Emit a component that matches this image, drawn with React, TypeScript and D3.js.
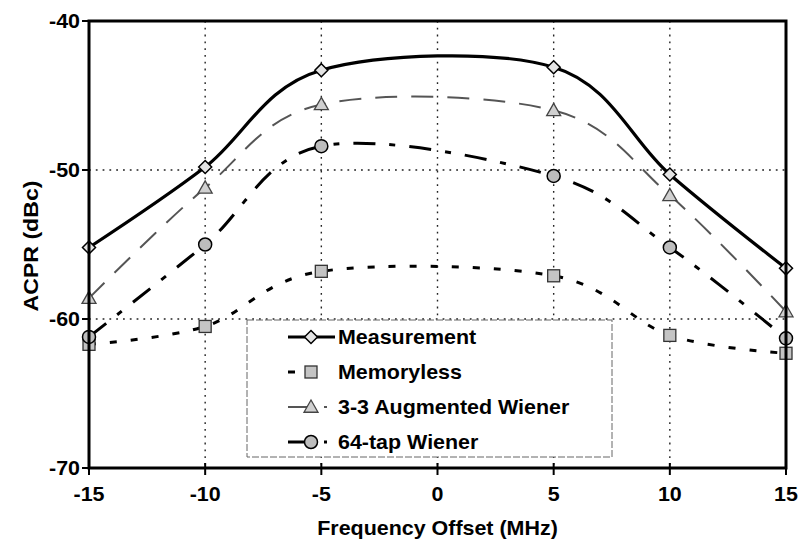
import React from "react";
import * as d3 from "d3";

// Frequency offsets (MHz) and ACPR (dBc) per model
const freqs = [-15, -10, -5, 5, 10, 15];
const measurement = [-55.2, -49.8, -43.3, -43.1, -50.3, -56.6];
const memoryless = [-61.7, -60.5, -56.8, -57.1, -61.1, -62.3];
const augmented = [-58.6, -51.2, -45.6, -46.0, -51.7, -59.5];
const tap64 = [-61.2, -55.0, -48.4, -50.4, -55.2, -61.3];

const xTicks = [-15, -10, -5, 0, 5, 10, 15];
const yTicks = [-40, -50, -60, -70];
const gridX = [-10, -5, 0, 5, 10];
const gridY = [-50, -60];

const seriesNames = ["Measurement", "Memoryless", "3-3 Augmented Wiener", "64-tap Wiener"];

const W = 799;
const H = 547;
const left = 89;
const right = 786;
const top = 21;
const bottom = 468;

const FONT = "'Liberation Sans', Arial, sans-serif";
const SX = 1.1;

type Style = {
  name: string;
  values: number[];
  stroke: string;
  width: number;
  dash?: string;
  marker: "diamond" | "square" | "triangle" | "circle";
};

const series: Style[] = [
  { name: seriesNames[1], values: memoryless, stroke: "#000", width: 3, dash: "7,14", marker: "square" },
  { name: seriesNames[3], values: tap64, stroke: "#000", width: 3, dash: "22,14,6,14", marker: "circle" },
  { name: seriesNames[2], values: augmented, stroke: "#555", width: 2, dash: "22,14", marker: "triangle" },
  { name: seriesNames[0], values: measurement, stroke: "#000", width: 3.2, marker: "diamond" },
];

function Marker({ kind, cx, cy }: { kind: Style["marker"]; cx: number; cy: number }) {
  if (kind === "diamond") {
    const r = 6.5;
    return (
      <path
        d={`M${cx},${cy - r}L${cx + r},${cy}L${cx},${cy + r}L${cx - r},${cy}Z`}
        fill="#e4e4e4"
        stroke="#000"
        strokeWidth={1.5}
      />
    );
  }
  if (kind === "square") {
    const r = 6;
    return <rect x={cx - r} y={cy - r} width={2 * r} height={2 * r} fill="#c4c4c4" stroke="#333" strokeWidth={1.3} />;
  }
  if (kind === "triangle") {
    const r = 7;
    return (
      <path
        d={`M${cx},${cy - r}L${cx + r},${cy + r * 0.75}L${cx - r},${cy + r * 0.75}Z`}
        fill="#d0d0d0"
        stroke="#444"
        strokeWidth={1.3}
      />
    );
  }
  return <circle cx={cx} cy={cy} r={6.5} fill="#bdbdbd" stroke="#000" strokeWidth={1.5} />;
}

function Label({
  x,
  y,
  text,
  anchor = "start",
  size = 19.5,
  rotate = 0,
}: {
  x: number;
  y: number;
  text: string;
  anchor?: string;
  size?: number;
  rotate?: number;
}) {
  const t = rotate ? `translate(${x},${y}) rotate(${rotate}) scale(${SX},1)` : `translate(${x},${y}) scale(${SX},1)`;
  return (
    <text transform={t} textAnchor={anchor} fontFamily={FONT} fontWeight="bold" fontSize={size} fill="#000">
      {text}
    </text>
  );
}

export default function App() {
  const x = d3.scaleLinear().domain([-15, 15]).range([left, right]);
  const y = d3.scaleLinear().domain([-70, -40]).range([bottom, top]);

  const line = d3
    .line<number>()
    .x((_, i) => x(freqs[i]))
    .y((v) => y(v))
    .curve(d3.curveCardinal.tension(0));

  // Legend layout
  const lgX = 247;
  const lgY = 320;
  const lgW = 365;
  const lgH = 137;
  const legendOrder = [series[3], series[0], series[2], series[1]];

  return (
    <svg width={W} height={H} style={{ position: "absolute", left: 0, top: 0, background: "#fff" }}>
      <rect x={0} y={0} width={W} height={H} fill="#fff" />

      {/* grid */}
      {gridX.map((g) => (
        <line key={"gx" + g} x1={x(g)} x2={x(g)} y1={top} y2={bottom} stroke="#222" strokeWidth={1.4} strokeDasharray="1.8,5" />
      ))}
      {gridY.map((g) => (
        <line key={"gy" + g} x1={left} x2={right} y1={y(g)} y2={y(g)} stroke="#222" strokeWidth={1.4} strokeDasharray="1.8,5" />
      ))}

      {/* series lines */}
      {series.map((s) => (
        <path
          key={s.name}
          d={line(s.values) || ""}
          fill="none"
          stroke={s.stroke}
          strokeWidth={s.width}
          strokeDasharray={s.dash}
          strokeLinecap="butt"
        />
      ))}

      {/* legend */}
      <rect x={lgX} y={lgY} width={lgW} height={lgH} fill="#fff" stroke="#666" strokeWidth={1} strokeDasharray="7,2" />
      {legendOrder.map((s, i) => {
        const cy = lgY + 17 + i * 35;
        const end = s.marker === "diamond" ? 335 : 327;
        return (
          <g key={"lg" + s.name}>
            <line x1={288} x2={end} y1={cy} y2={cy} stroke={s.stroke} strokeWidth={s.width} strokeDasharray={s.dash} />
            <Marker kind={s.marker} cx={311} cy={cy} />
            <Label x={338} y={cy + 7} text={s.name} />
          </g>
        );
      })}

      {/* markers */}
      {series.map((s) =>
        s.values.map((v, i) => <Marker key={s.name + i} kind={s.marker} cx={x(freqs[i])} cy={y(v)} />)
      )}

      {/* frame */}
      <rect x={left} y={top} width={right - left} height={bottom - top} fill="none" stroke="#000" strokeWidth={3} />

      {/* y axis ticks and labels */}
      {yTicks.map((t) => (
        <g key={"yt" + t}>
          <line x1={left - 7} x2={left} y1={y(t)} y2={y(t)} stroke="#000" strokeWidth={2} />
          <Label x={80} y={y(t) + 7} text={String(t)} anchor="end" />
        </g>
      ))}

      {/* x axis ticks and labels */}
      {xTicks.map((t) => (
        <g key={"xt" + t}>
          <line x1={x(t)} x2={x(t)} y1={bottom - 5} y2={bottom + 7} stroke="#000" strokeWidth={2} />
          <Label x={x(t)} y={bottom + 33} text={String(t)} anchor="middle" />
        </g>
      ))}

      <Label x={x(0)} y={bottom + 67} text="Frequency Offset (MHz)" anchor="middle" />
      <Label x={38} y={246} text="ACPR (dBc)" anchor="middle" rotate={-90} size={21} />
    </svg>
  );
}
